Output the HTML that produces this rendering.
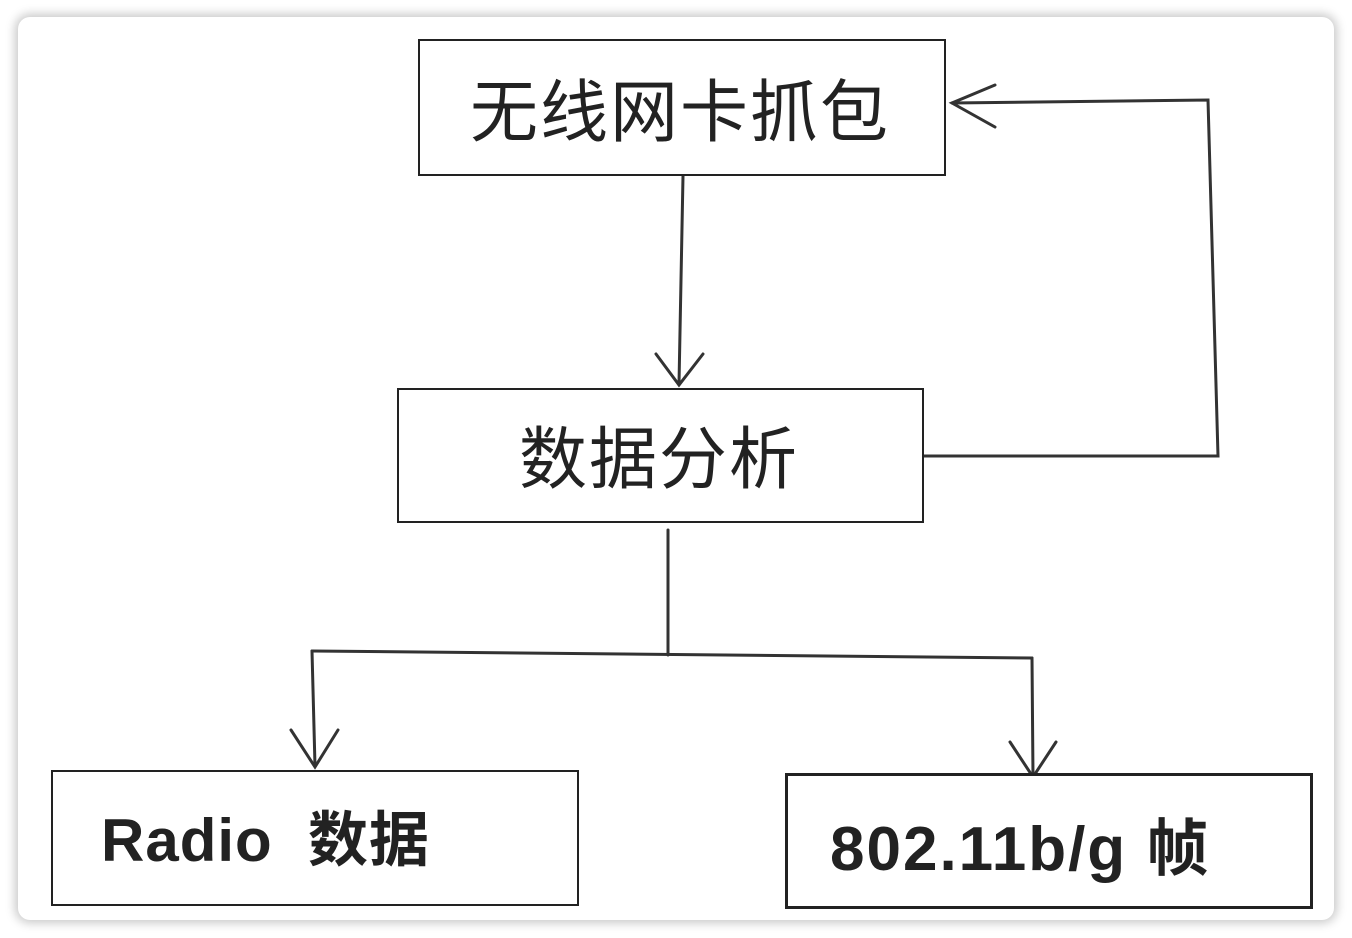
<!DOCTYPE html>
<html><head><meta charset="utf-8"><style>
html,body{margin:0;padding:0;background:#fff;width:1352px;height:938px;overflow:hidden}
.card{position:absolute;left:18px;top:17px;width:1316px;height:903px;background:#fff;border-radius:12px;box-shadow:0 0 10px 3px rgba(0,0,0,0.22)}
.box{position:absolute;border:2px solid #222;box-sizing:border-box;background:#fff;font-family:"Liberation Sans","Noto Sans CJK SC",sans-serif;color:#222;white-space:nowrap}
</style></head><body>
<div class="card"></div>
<svg width="1352" height="938" style="position:absolute;left:0;top:0" fill="none" stroke="#333" stroke-width="3" stroke-linecap="round">
<path d="M683 176 L679 384"/>
<path d="M656 354 L679 385 L703 354"/>
<path d="M924 456 L1218 456 L1208 100 L952 103"/>
<path d="M995 85 L952 103 L995 127"/>
<path d="M668 530 L668 655"/>
<path d="M312 651 L1032 658"/>
<path d="M312 651 L315 766"/>
<path d="M291 730 L315 767 L338 730"/>
<path d="M1032 658 L1033 776"/>
<path d="M1010 742 L1033 777 L1056 742"/>
</svg>
<div class="box" style="left:418px;top:39px;width:528px;height:137px"><div style="position:absolute;left:50px;top:16px;font-size:68px;letter-spacing:2px">无线网卡抓包</div></div>
<div class="box" style="left:397px;top:388px;width:527px;height:135px"><div style="position:absolute;left:120px;top:14px;font-size:68px;letter-spacing:2px">数据分析</div></div>
<div class="box" style="left:51px;top:770px;width:528px;height:136px"><div style="position:absolute;left:48px;top:20px;font-size:60px;font-weight:bold;letter-spacing:1px">Radio&nbsp; 数据</div></div>
<div class="box" style="left:785px;top:773px;width:528px;height:136px;border-width:3px"><div style="position:absolute;left:42px;top:22px;font-size:62px;font-weight:bold;letter-spacing:2px">802.11b/g 帧</div></div>
</body></html>
